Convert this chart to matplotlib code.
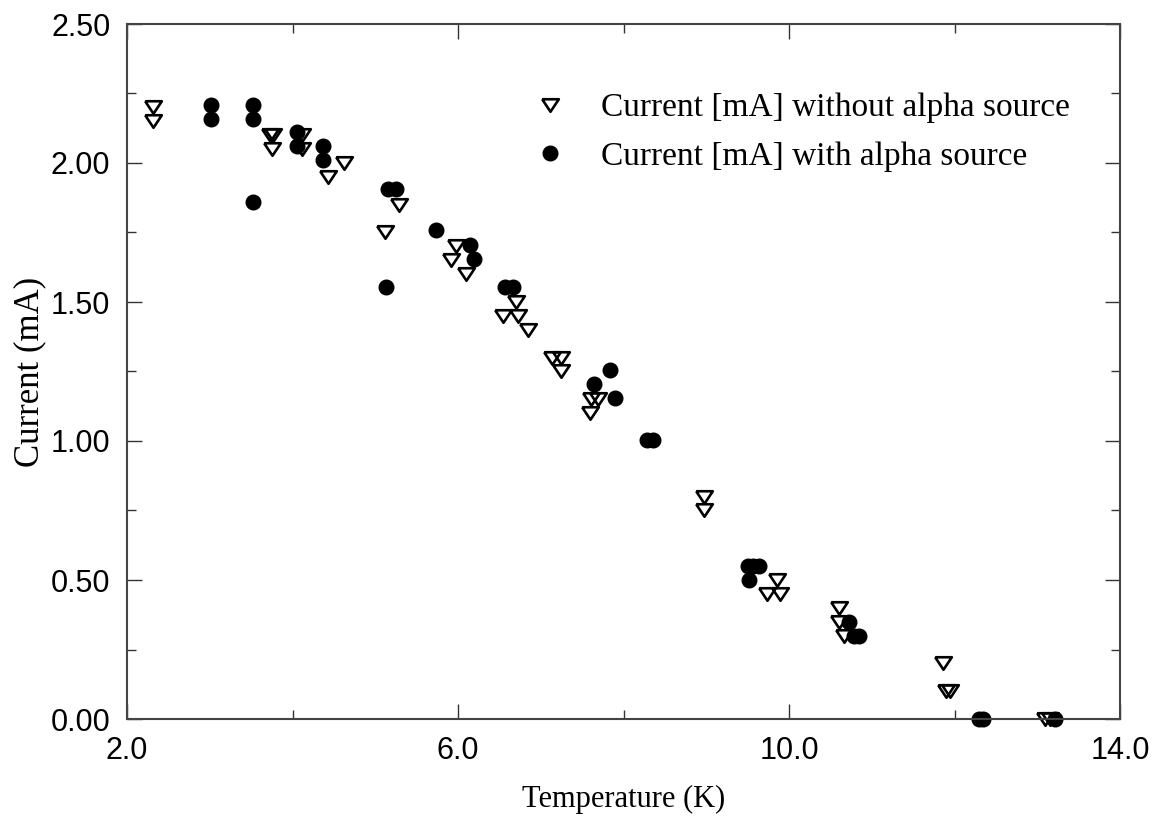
import numpy as np
import matplotlib.pyplot as plt
from matplotlib.ticker import FixedLocator, MultipleLocator, FormatStrFormatter

# Current without alpha source (open triangles)
t_without = [2.31, 2.31, 3.73, 3.77, 3.75, 4.12, 4.12, 4.43, 4.62,
             5.29, 5.12, 5.98, 5.91, 6.10, 6.70, 6.54, 6.73, 6.85,
             7.14, 7.25, 7.25, 7.61, 7.69, 7.60, 8.97, 8.97,
             9.85, 9.73, 9.89, 10.60, 10.60, 10.66, 11.86, 11.90, 11.95,
             13.09, 13.15]
i_without = [2.20, 2.15, 2.10, 2.10, 2.05, 2.10, 2.05, 1.95, 2.00,
             1.85, 1.75, 1.70, 1.65, 1.60, 1.50, 1.45, 1.45, 1.40,
             1.30, 1.30, 1.25, 1.15, 1.15, 1.10, 0.80, 0.75,
             0.50, 0.45, 0.45, 0.40, 0.35, 0.30, 0.20, 0.10, 0.10,
             0.00, 0.00]

# Current with alpha source (filled circles)
t_with = [3.01, 3.01, 3.52, 3.52, 3.52, 4.05, 4.05, 4.37, 4.37,
          5.15, 5.25, 5.13, 5.74, 6.14, 6.19, 6.57, 6.66,
          7.84, 7.64, 7.90, 8.28, 8.36, 9.50, 9.57, 9.64, 9.52,
          10.73, 10.79, 10.84, 12.30, 12.35, 13.21]
i_with = [2.21, 2.16, 2.21, 2.16, 1.86, 2.11, 2.06, 2.06, 2.01,
          1.905, 1.905, 1.555, 1.76, 1.705, 1.655, 1.555, 1.555,
          1.255, 1.205, 1.155, 1.005, 1.005, 0.55, 0.55, 0.55, 0.50,
          0.35, 0.30, 0.30, 0.00, 0.00, 0.00]

x_major = [2.0, 6.0, 10.0, 14.0]
x_minor = [4.0, 8.0, 12.0]

serif = 'Liberation Serif'
sans = 'Liberation Sans'

fig = plt.figure(figsize=(11.63, 8.22), dpi=100)
ax = fig.add_axes([127/1163, 1 - 719/822, (1120 - 127)/1163, (719 - 24)/822])

tri = [(-1, 0.75), (1, 0.75), (0, -0.75), (-1, 0.75)]
ax.plot(t_without, i_without, linestyle='none', marker=tri, ms=12,
        mfc='none', mec='black', mew=1.9, clip_on=False,
        label='Current [mA] without alpha source')
ax.plot(t_with, i_with, linestyle='none', marker='o', ms=10.5,
        mfc='black', mec='black', clip_on=False,
        label='Current [mA] with alpha source')

ax.set_xlim(2.0, 14.0)
ax.set_ylim(0.0, 2.5)
ax.xaxis.set_major_locator(FixedLocator(x_major))
ax.xaxis.set_minor_locator(FixedLocator(x_minor))
ax.yaxis.set_major_locator(MultipleLocator(0.5))
ax.yaxis.set_minor_locator(MultipleLocator(0.25))
ax.xaxis.set_major_formatter(FormatStrFormatter('%.1f'))
ax.yaxis.set_major_formatter(FormatStrFormatter('%.2f'))

ax.tick_params(which='both', direction='in', top=True, right=True,
               width=1.0, color='#333333')
ax.tick_params(which='major', length=10.5)
ax.tick_params(which='minor', length=6.5)
ax.tick_params(axis='x', which='major', pad=12)
ax.tick_params(axis='y', which='major', pad=12)
for lab in ax.get_xticklabels() + ax.get_yticklabels():
    lab.set_fontfamily(sans)
    lab.set_fontsize(22)

for s in ax.spines.values():
    s.set_color('#444444')
    s.set_linewidth(1.5)

ax.set_xlabel('Temperature (K)', fontfamily=serif, fontsize=22, labelpad=14)
ax.set_ylabel('Current (mA)', fontfamily=serif, fontsize=25, labelpad=3)

ax.legend(loc='upper left', bbox_to_anchor=(0.409, 0.901), frameon=False,
          prop={'family': serif, 'size': 24}, handlelength=1.0,
          handletextpad=1.05, labelspacing=0.54, borderpad=0, borderaxespad=0)

fig.savefig('out.png', dpi=100)
